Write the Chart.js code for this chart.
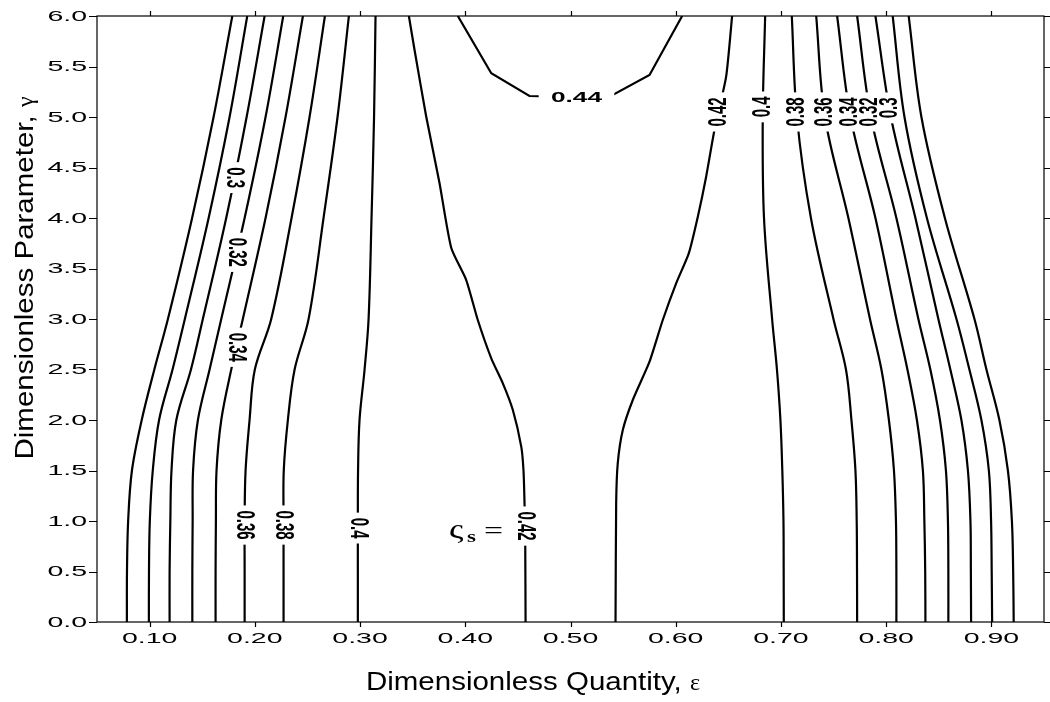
<!DOCTYPE html>
<html>
<head>
<meta charset="utf-8">
<script src="https://cdn.jsdelivr.net/npm/chart.js@4.4.1/dist/chart.umd.min.js"></script>
<style>
  html, body { margin: 0; padding: 0; background: #fff; }
  #wrap { width: 1050px; height: 702px; }
</style>
</head>
<body>
<div id="wrap"><canvas id="chart"></canvas></div>
<script>
// gamma values at which the side contours are sampled (top -> bottom)
const GAMMA_LEVELS = [6, 5, 4, 3, 2.5, 2, 1.5, 1, 0.5, 0];

// left family: epsilon at each gamma level
const EPS_L026 = [0.1786, 0.1608, 0.1404, 0.1174, 0.1045, 0.0925, 0.0832, 0.0796, 0.0785, 0.0784];
const EPS_L028 = [0.1928, 0.1760, 0.1561, 0.1335, 0.1218, 0.1090, 0.1030, 0.1002, 0.0994, 0.0993];
const EPS_L030 = [0.2093, 0.1922, 0.1728, 0.1506, 0.1393, 0.1254, 0.1208, 0.1197, 0.1190, 0.1190];
const EPS_L032 = [0.2270, 0.2102, 0.1903, 0.1681, 0.1570, 0.1459, 0.1413, 0.1409, 0.1406, 0.1406];
const EPS_L034 = [0.2457, 0.2292, 0.2102, 0.1886, 0.1776, 0.1681, 0.1636, 0.1630, 0.1627, 0.1627];
const EPS_L036 = [0.2666, 0.2520, 0.2349, 0.2156, 0.2000, 0.1950, 0.1912, 0.1903, 0.1903, 0.1903];
const EPS_L038 = [0.2894, 0.2786, 0.2653, 0.2511, 0.2378, 0.2314, 0.2275, 0.2273, 0.2273, 0.2273];
const EPS_L040 = [0.3147, 0.3133, 0.3109, 0.3081, 0.3043, 0.2995, 0.2981, 0.2979, 0.2979, 0.2979];

// right family
const EPS_R040 = [0.6850, 0.6827, 0.6839, 0.6916, 0.6962, 0.6995, 0.7013, 0.7024, 0.7026, 0.7027];
const EPS_R038 = [0.7103, 0.7152, 0.7285, 0.7499, 0.7618, 0.7670, 0.7708, 0.7720, 0.7723, 0.7724];
const EPS_R036 = [0.7335, 0.7418, 0.7641, 0.7846, 0.7955, 0.8026, 0.8074, 0.8093, 0.8097, 0.8097];
const EPS_R034 = [0.7534, 0.7661, 0.7898, 0.8097, 0.8202, 0.8292, 0.8349, 0.8363, 0.8371, 0.8373];
const EPS_R032 = [0.7724, 0.7855, 0.8097, 0.8306, 0.8420, 0.8511, 0.8568, 0.8587, 0.8591, 0.8591];
const EPS_R030 = [0.7898, 0.8045, 0.8278, 0.8496, 0.8610, 0.8715, 0.8777, 0.8801, 0.8805, 0.8807];
const EPS_R028 = [0.8062, 0.8174, 0.8387, 0.8668, 0.8791, 0.8905, 0.8976, 0.8997, 0.9003, 0.9007];
const EPS_R026 = [0.8214, 0.8335, 0.8558, 0.8839, 0.8953, 0.9076, 0.9157, 0.9195, 0.9207, 0.9212];

// middle contours as [epsilon, gamma] pairs
const MID_042_LEFT = [
  [0.3464, 6.0], [0.3518, 5.663], [0.3629, 5.003], [0.3755, 4.347], [0.3867, 3.703],
  [0.4009, 3.386], [0.4119, 2.990], [0.4247, 2.611], [0.4357, 2.363], [0.4452, 2.099],
  [0.4532, 1.736], [0.4553, 1.505], [0.4563, 1.178], [0.4570, 0.746], [0.4573, 0],
];
const MID_042_RIGHT = [
  [0.6536, 6.0], [0.6479, 5.399], [0.6368, 4.871], [0.6289, 4.409], [0.6210, 4.013],
  [0.6124, 3.650], [0.6004, 3.353], [0.5877, 2.990], [0.5751, 2.577], [0.5592, 2.198],
  [0.5497, 1.901], [0.5449, 1.571], [0.5434, 1.175], [0.5428, 0],
];
const MID_044 = [
  [0.3929, 6.0], [0.4247, 5.433], [0.4610, 5.208], [0.4991, 5.198], [0.5371, 5.201],
  [0.5751, 5.416], [0.6061, 6.0],
];

// axis ticks
const X_TICKS = [0.1, 0.2, 0.3, 0.4, 0.5, 0.6, 0.7, 0.8, 0.9];
const X_TICK_LABELS = ['0.10', '0.20', '0.30', '0.40', '0.50', '0.60', '0.70', '0.80', '0.90'];
const Y_TICKS = [0, 0.5, 1, 1.5, 2, 2.5, 3, 3.5, 4, 4.5, 5, 5.5, 6];
const Y_TICK_LABELS = ['0.0', '0.5', '1.0', '1.5', '2.0', '2.5', '3.0', '3.5', '4.0', '4.5', '5.0', '5.5', '6.0'];

// contour labels: text, contour it sits on, gamma where it sits
const LABEL_TEXT  = ['0.3', '0.32', '0.34', '0.36', '0.38', '0.4', '0.42', '0.42', '0.4', '0.38', '0.36', '0.34', '0.32', '0.3'];
const LABEL_LINE  = ['L030', 'L032', 'L034', 'L036', 'L038', 'L040', 'M042L', 'M042R', 'R040', 'R038', 'R036', 'R034', 'R032', 'R030'];
const LABEL_GAMMA = [4.40, 3.66, 2.72, 0.96, 0.96, 0.93, 0.95, 5.05, 5.10, 5.05, 5.05, 5.05, 5.05, 5.09];
const LABEL_044 = [0.5057, 5.198];

function fromLevels(eps) {
  return eps.map((e, i) => ({ x: e, y: GAMMA_LEVELS[i] }));
}
function fromPairs(pairs) {
  return pairs.map(([e, g]) => ({ x: e, y: g }));
}

const LINES = {
  L026: fromLevels(EPS_L026), L028: fromLevels(EPS_L028), L030: fromLevels(EPS_L030),
  L032: fromLevels(EPS_L032), L034: fromLevels(EPS_L034), L036: fromLevels(EPS_L036),
  L038: fromLevels(EPS_L038), L040: fromLevels(EPS_L040),
  M042L: fromPairs(MID_042_LEFT), M042R: fromPairs(MID_042_RIGHT), M044: fromPairs(MID_044),
  R040: fromLevels(EPS_R040), R038: fromLevels(EPS_R038), R036: fromLevels(EPS_R036),
  R034: fromLevels(EPS_R034), R032: fromLevels(EPS_R032), R030: fromLevels(EPS_R030),
  R028: fromLevels(EPS_R028), R026: fromLevels(EPS_R026),
};

function epsAt(points, g) {
  for (let i = 0; i < points.length - 1; i++) {
    const a = points[i], b = points[i + 1];
    if ((a.y - g) * (b.y - g) <= 0 && a.y !== b.y) {
      const t = (g - a.y) / (b.y - a.y);
      return a.x + t * (b.x - a.x);
    }
  }
  return points[0].x;
}

// draws text horizontally stretched in screen space (the figure is squashed wide)
function stretchText(ctx, text, px, py, o) {
  ctx.save();
  ctx.translate(px, py);
  ctx.scale(o.sx || 1, 1);
  if (o.rot) ctx.rotate(o.rot * Math.PI / 180);
  ctx.font = o.font;
  ctx.textAlign = o.align || 'center';
  ctx.textBaseline = o.baseline || 'middle';
  if (o.mask) {
    const w = ctx.measureText(text).width;
    ctx.fillStyle = '#fff';
    ctx.fillRect(-w / 2 - o.mask[0], -o.mask[1], w + 2 * o.mask[0], 2 * o.mask[1]);
  } else {
    ctx.fillStyle = '#000';
    ctx.fillText(text, 0, 0);
  }
  ctx.restore();
}

const LABEL_FONT = 'bold 15px "Liberation Sans", Arial, sans-serif';
const TICK_FONT = '15px "Liberation Sans", Arial, sans-serif';
const TITLE_FONT = '25px "Liberation Sans", Arial, sans-serif';
const SYMBOL_FONT = '24px "Liberation Serif", "Times New Roman", serif';

const framePlugin = {
  id: 'frame',
  afterDatasetsDraw(chart) {
    const { ctx, chartArea: a, scales: { x, y } } = chart;
    ctx.save();
    ctx.strokeStyle = '#000';
    ctx.lineWidth = 1.2;
    ctx.strokeRect(a.left, a.top, a.right - a.left, a.bottom - a.top);

    ctx.beginPath();
    X_TICKS.forEach((v) => {
      const px = Math.round(x.getPixelForValue(v)) + 0.5;
      ctx.moveTo(px, a.bottom); ctx.lineTo(px, a.bottom + 5);
      ctx.moveTo(px, a.top); ctx.lineTo(px, a.top - 5);
    });
    Y_TICKS.forEach((v) => {
      const py = Math.round(y.getPixelForValue(v)) + 0.5;
      ctx.moveTo(a.left - 8, py); ctx.lineTo(a.left, py);
      ctx.moveTo(a.right, py); ctx.lineTo(a.right + 7, py);
    });
    ctx.stroke();

    X_TICKS.forEach((v, i) => {
      stretchText(ctx, X_TICK_LABELS[i], x.getPixelForValue(v), a.bottom + 21,
        { font: TICK_FONT, sx: 1.9, baseline: 'alphabetic' });
    });
    Y_TICKS.forEach((v, i) => {
      stretchText(ctx, Y_TICK_LABELS[i], a.left - 10, y.getPixelForValue(v) + 0.5,
        { font: TICK_FONT, sx: 1.9, align: 'right' });
    });

    // contour labels: masks first, then text
    const placed = LABEL_TEXT.map((t, i) => {
      const g = LABEL_GAMMA[i];
      const e = epsAt(LINES[LABEL_LINE[i]], g);
      const rot = LABEL_LINE[i][0] === 'R' || LABEL_LINE[i] === 'M042R' ? -90 : 90;
      return { t, px: x.getPixelForValue(e), py: y.getPixelForValue(g), rot };
    });
    placed.push({ t: '0.44', px: x.getPixelForValue(LABEL_044[0]), py: y.getPixelForValue(LABEL_044[1]), rot: 0 });
    placed.forEach((p) => stretchText(ctx, p.t, p.px, p.py,
      { font: LABEL_FONT, sx: 1.75, rot: p.rot, mask: p.rot ? [5, 5] : [7, 6] }));
    placed.forEach((p) => stretchText(ctx, p.t, p.px, p.py + (p.rot ? 0 : 1),
      { font: LABEL_FONT, sx: 1.75, rot: p.rot }));

    // ς_s = annotation
    stretchText(ctx, 'ς', 449, 538, { font: '28px "Liberation Serif", serif', sx: 1.3, align: 'left', baseline: 'alphabetic' });
    stretchText(ctx, 's', 467, 542, { font: 'bold 17px "Liberation Serif", serif', sx: 1.35, align: 'left', baseline: 'alphabetic' });
    stretchText(ctx, '=', 484, 539, { font: '26px "Liberation Serif", serif', sx: 1.3, align: 'left', baseline: 'alphabetic' });

    // axis titles
    const xt = 'Dimensionless Quantity, ';
    ctx.font = TITLE_FONT;
    const xw = ctx.measureText(xt).width * 1.18;
    ctx.font = SYMBOL_FONT;
    const ew = ctx.measureText('ε').width;
    const x0 = 533 - (xw + ew) / 2;
    stretchText(ctx, xt, x0, 690, { font: TITLE_FONT, sx: 1.18, align: 'left', baseline: 'alphabetic' });
    stretchText(ctx, 'ε', x0 + xw, 690, { font: SYMBOL_FONT, sx: 1, align: 'left', baseline: 'alphabetic' });

    const yt = 'Dimensionless Parameter, ';
    ctx.font = TITLE_FONT;
    const yw = ctx.measureText(yt).width * 1.18;
    ctx.font = SYMBOL_FONT;
    const gw = ctx.measureText('γ').width;
    const y0 = 278 + (yw + gw) / 2;
    ctx.save();
    ctx.translate(33, y0);
    ctx.rotate(-Math.PI / 2);
    ctx.fillStyle = '#000';
    ctx.textAlign = 'left';
    ctx.textBaseline = 'alphabetic';
    ctx.save();
    ctx.scale(1.18, 1);
    ctx.font = TITLE_FONT;
    ctx.fillText(yt, 0, 0);
    ctx.restore();
    ctx.font = SYMBOL_FONT;
    ctx.fillText('γ', yw, 0);
    ctx.restore();

    ctx.restore();
  },
};

const datasets = Object.keys(LINES).map((key) => ({
  label: key,
  data: LINES[key],
  showLine: true,
  borderColor: '#000',
  borderWidth: 2.2,
  pointRadius: 0,
  tension: key === 'M044' ? 0 : (key[0] === 'M' ? 0.2 : 0.35),
}));

new Chart(document.getElementById('chart'), {
  type: 'scatter',
  data: { datasets },
  options: {
    responsive: true,
    maintainAspectRatio: false,
    animation: false,
    layout: { padding: { left: 97, right: 6, top: 16, bottom: 80 } },
    plugins: { legend: { display: false }, tooltip: { enabled: false } },
    scales: {
      x: { type: 'linear', min: 0.05, max: 0.95, display: false },
      y: { type: 'linear', min: 0, max: 6, display: false },
    },
  },
  plugins: [framePlugin],
});
</script>
</body>
</html>
